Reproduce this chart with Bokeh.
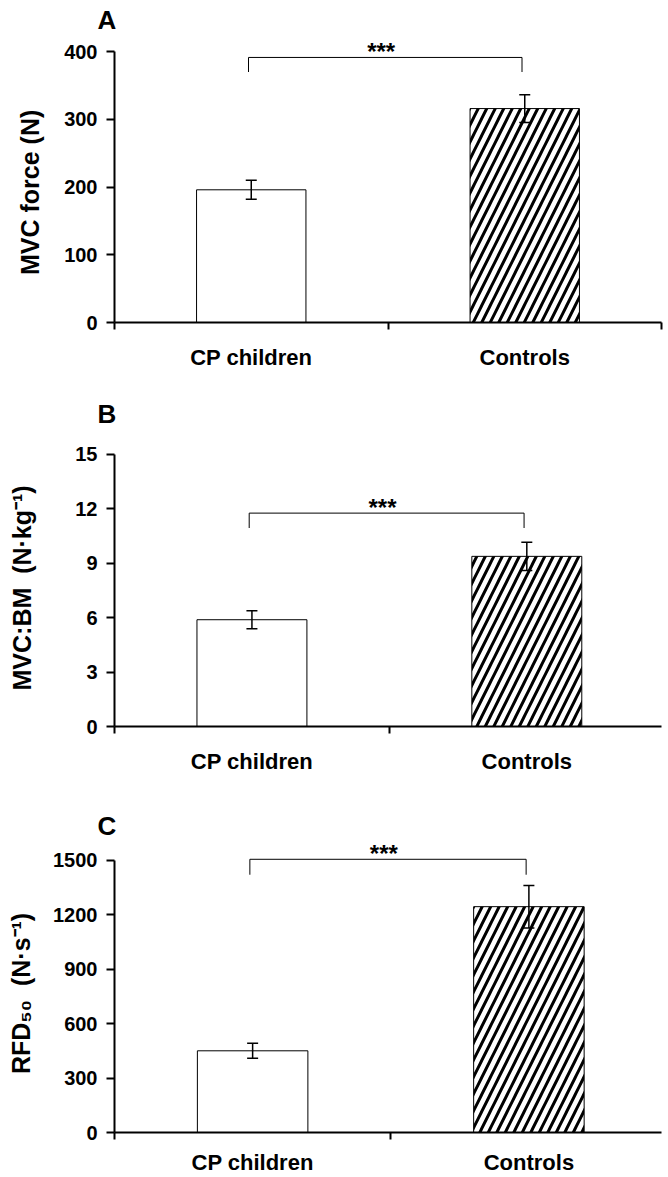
from bokeh.plotting import figure
from bokeh.layouts import column
from bokeh.models import Range1d, FixedTicker, Whisker, TeeHead, ColumnDataSource
from bokeh.core.properties import value
from bokeh.embed import file_html
from bokeh.resources import INLINE

# ---- data ----
groups = ["CP children", "Controls"]
mvc_force = [196, 316]
mvc_force_err = [14, 20.5]
mvc_bm = [5.88, 9.37]
mvc_bm_err = [0.5, 0.78]
rfd50 = [450, 1244]
rfd50_err = [41, 117]
force_ticks = [0, 100, 200, 300, 400]
bm_ticks = [0, 3, 6, 9, 12, 15]
rfd_ticks = [0, 300, 600, 900, 1200, 1500]
significance = "***"

FONT = "Liberation Sans"
NB = "\u00a0"


def panel(letter, vals, errs, yticks, ylabel, bracket_top, bracket_leg,
          height, b_left, b_right, b_bottom, x_end, y_end,
          ylab_standoff, xlab_standoff):
    p = figure(width=668, height=height, x_range=Range1d(0, x_end),
               y_range=Range1d(0, y_end), output_backend="svg",
               toolbar_location=None, min_border_left=b_left,
               min_border_right=b_right, min_border_top=34,
               min_border_bottom=b_bottom, title=letter)
    p.outline_line_color = None
    p.grid.visible = False
    p.background_fill_color = "white"
    p.border_fill_color = "white"

    t = p.title
    t.align = "left"
    t.offset = -17
    t.standoff = 0
    t.text_font = FONT
    t.text_font_style = "bold"
    t.text_font_size = "26px"
    t.text_color = "black"

    xs = [i + 0.5 for i in range(len(groups))]
    src = ColumnDataSource(dict(
        x=xs, top=vals,
        upper=[v + e for v, e in zip(vals, errs)],
        lower=[v - e for v, e in zip(vals, errs)],
        hatch=["blank", "right_diagonal_line"],
    ))
    p.vbar(x="x", top="top", width=0.4, bottom=0, source=src,
           fill_color="white", line_color="black", line_width=1,
           hatch_pattern="hatch", hatch_color="black",
           hatch_scale=17, hatch_weight=3)

    w = Whisker(source=src, base="x", upper="upper", lower="lower",
                line_color="black", line_width=1.5, level="annotation",
                upper_head=TeeHead(size=11, line_color="black", line_width=1.5),
                lower_head=TeeHead(size=11, line_color="black", line_width=1.5))
    p.add_layout(w)

    # significance bracket
    bx0, bx1 = xs[0] - 0.01, xs[1] - 0.01
    p.line(x=[bx0, bx0, bx1, bx1],
           y=[bracket_leg, bracket_top, bracket_top, bracket_leg],
           line_color="black", line_width=1)
    p.text(x=[(bx0 + bx1) / 2 - 0.015], y=[bracket_top], text=[significance],
           text_font=value(FONT), text_font_style="bold",
           text_font_size="24px", text_align="center",
           text_baseline="alphabetic", text_color="black", y_offset=-6)

    ya = p.yaxis[0]
    ya.ticker = FixedTicker(ticks=yticks)
    ya.bounds = (yticks[0], yticks[-1])
    ya.axis_line_width = 2
    ya.major_tick_line_width = 2
    ya.major_tick_out = 8
    ya.major_tick_in = 0
    ya.minor_tick_line_color = None
    ya.major_label_standoff = 9
    ya.major_label_text_font = FONT
    ya.major_label_text_font_style = "bold"
    ya.major_label_text_font_size = "20px"
    ya.major_label_text_color = "black"
    ya.axis_label = ylabel
    ya.axis_label_text_font = FONT
    ya.axis_label_text_font_style = "bold"
    ya.axis_label_text_font_size = "25px"
    ya.axis_label_text_color = "black"
    ya.axis_label_standoff = ylab_standoff

    xa = p.xaxis[0]
    xa.ticker = FixedTicker(ticks=xs, minor_ticks=[0, 1, 2])
    xa.major_label_overrides = {x: g for x, g in zip(xs, groups)}
    xa.axis_line_width = 2
    xa.major_tick_out = 0
    xa.major_tick_in = 0
    xa.minor_tick_out = 7
    xa.minor_tick_in = 0
    xa.minor_tick_line_width = 2
    xa.major_label_standoff = xlab_standoff
    xa.major_label_text_font = FONT
    xa.major_label_text_font_style = "bold"
    xa.major_label_text_font_size = "22px"
    xa.major_label_text_color = "black"
    return p


pA = panel("A", mvc_force, mvc_force_err, force_ticks,
           "MVC force (N)" + NB * 4,
           391.5, 370, 394, 112, 7, 72, 2.0, 425.4, 17, 15)
pB = panel("B", mvc_bm, mvc_bm_err, bm_ticks,
           "MVC:BM" + NB + NB + "(N\u00b7kg\u207b\u00b9)" + NB * 3,
           11.75, 10.93, 412, 113, 0, 80, 1.99, 16.41, 36, 15)
pC = panel("C", rfd50, rfd50_err, rfd_ticks,
           "RFD\u2085\u2080" + NB + NB + "(N\u00b7s\u207b\u00b9)" + NB * 2,
           1505, 1420, 371, 114, 0, 45, 1.98, 1608.5, 15, 10)

layout = column(pA, pB, pC, spacing=0)
open("out.html", "w").write(file_html(layout, INLINE))
